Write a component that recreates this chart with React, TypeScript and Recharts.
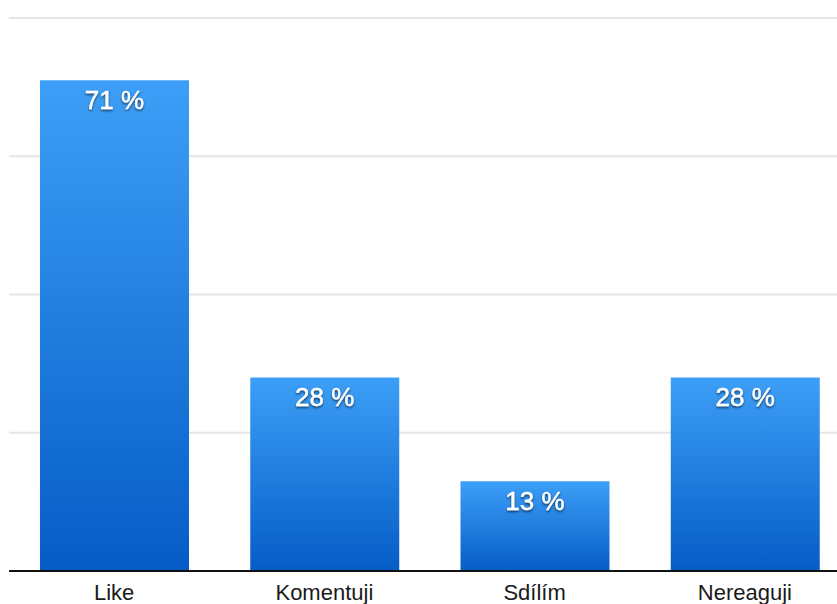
import { BarChart, Bar, XAxis, YAxis, CartesianGrid, LabelList } from "recharts";

const categories = ["Like", "Komentuji", "Sdílím", "Nereaguji"];
const shares = [71, 28, 13, 28];
const yTicks = [0, 20, 40, 60, 80];

const chartData = categories.map((name, i) => ({ name, value: shares[i] }));

const FONT = "'Liberation Sans', Arial, Helvetica, sans-serif";

interface LabelProps {
  x?: number;
  y?: number;
  width?: number;
  value?: number;
}

function ValueLabel({ x = 0, y = 0, width = 0, value }: LabelProps) {
  return (
    <text
      x={x + width / 2}
      y={y + 29}
      textAnchor="middle"
      fill="#ffffff"
      fontSize={26}
      fontFamily={FONT}
      stroke="#ffffff"
      strokeWidth={0.4}
      filter="url(#labelShadow)"
    >
      {`${value} %`}
    </text>
  );
}

interface TickProps {
  x?: number;
  y?: number;
  payload?: { value: string };
}

function CategoryTick({ x = 0, y = 0, payload }: TickProps) {
  return (
    <text x={x} y={y + 29} textAnchor="middle" fill="#1a1a1a" fontSize={22} fontFamily={FONT}>
      {payload?.value}
    </text>
  );
}

export default function App() {
  return (
    <div style={{ position: "absolute", left: 0, top: 0, width: 837, height: 604, overflow: "hidden", background: "#fff" }}>
      <BarChart width={850} height={604} data={chartData} margin={{ top: 18, right: 0, bottom: 0, left: 9 }}>
        <defs>
          <linearGradient id="barFill" x1="0" y1="0" x2="0" y2="1">
            <stop offset="0%" stopColor="#3d9ff7" />
            <stop offset="100%" stopColor="#055cc6" />
          </linearGradient>
          <filter id="labelShadow" x="-20%" y="-40%" width="140%" height="180%">
            <feDropShadow dx="0" dy="1.5" stdDeviation="1" floodColor="#000" floodOpacity="0.65" />
          </filter>
        </defs>
        <CartesianGrid vertical={false} stroke="#e6e6e6" strokeWidth={2} />
        <YAxis hide domain={[0, 80]} ticks={yTicks} />
        <XAxis
          dataKey="name"
          height={33}
          axisLine={{ stroke: "#111", strokeWidth: 2 }}
          tickLine={false}
          tickSize={0}
          tickMargin={0}
          tick={<CategoryTick />}
          interval={0}
        />
        <Bar dataKey="value" fill="url(#barFill)" barSize={149} isAnimationActive={false}>
          <LabelList dataKey="value" content={<ValueLabel />} />
        </Bar>
      </BarChart>
    </div>
  );
}
